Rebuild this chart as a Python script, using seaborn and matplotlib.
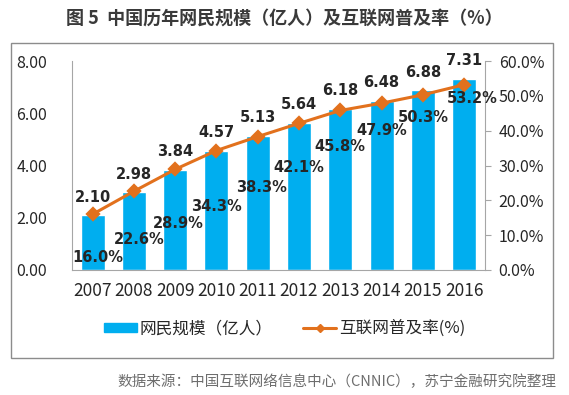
import pandas as pd
import matplotlib.pyplot as plt
import seaborn as sns
from matplotlib.patches import Rectangle, Patch
from matplotlib.lines import Line2D

# data
years = ['2007', '2008', '2009', '2010', '2011', '2012', '2013', '2014', '2015', '2016']
users = [2.10, 2.98, 3.84, 4.57, 5.13, 5.64, 6.18, 6.48, 6.88, 7.31]
rate = [16.0, 22.6, 28.9, 34.3, 38.3, 42.1, 45.8, 47.9, 50.3, 53.2]

df = pd.DataFrame({'year': years, 'users': users, 'rate': [r / 100 for r in rate]})

sns.set_style("white")
plt.rcParams['font.family'] = ['Noto Sans CJK SC', 'DejaVu Sans']

bar_color = '#00AEEF'
line_color = '#E2711D'

fig = plt.figure(figsize=(5.69, 3.95), dpi=100)
ax = fig.add_axes([0.1265, 0.3165, 0.7255, 0.529])

sns.barplot(data=df, x='year', y='users', color=bar_color, width=0.58,
            saturation=1, ax=ax)
ax.set_ylim(0, 8)
ax.set_yticks([0, 2, 4, 6, 8])
ax.set_yticklabels([f'{v:.2f}' for v in [0, 2, 4, 6, 8]])
ax.set_xlabel('')
ax.set_ylabel('')
ax.tick_params(axis='y', length=0, labelsize=11.5, pad=18)
ax.tick_params(axis='x', length=0, labelsize=12.5, pad=9)
for s in ['top', 'right']:
    ax.spines[s].set_visible(False)
for s in ['left', 'bottom']:
    ax.spines[s].set_color('#A6A6A6')

ax2 = ax.twinx()
sns.pointplot(data=df, x='year', y='rate', color=line_color, markers='D',
              markersize=6, linewidth=2.2, ax=ax2)
ax2.set_ylim(0, 0.6)
ax2.set_yticks([i / 10 for i in range(7)])
ax2.set_yticklabels([f'{i * 10:.1f}%' for i in range(7)])
ax2.set_ylabel('')
ax2.set_xlabel('')
ax2.set_xlim(-0.5, len(years) - 0.5)
ax2.tick_params(axis='y', length=4, color='#A6A6A6', labelsize=11.5, pad=6, right=True)
for s in ['top', 'left', 'bottom']:
    ax2.spines[s].set_visible(False)
ax2.spines['right'].set_color('#A6A6A6')

# value labels
for i, v in enumerate(users):
    ax.annotate(f'{v:.2f}', (i, v), xytext=(0, 13), textcoords='offset points',
                ha='center', va='center', fontsize=10.5, fontweight='bold',
                family='DejaVu Sans')

pct_dy = [-31, -35, -39, -40, -37, -32, -26, -20, -16, -10]
pct_dx = [4, 4, 2, 0, 3, 0, 0, 0, 0, 6]
for i, r in enumerate(rate):
    ax2.annotate(f'{r:.1f}%', (i, r / 100), xytext=(pct_dx[i], pct_dy[i]),
                 textcoords='offset points', ha='center', va='center',
                 fontsize=10.5, fontweight='bold', family='DejaVu Sans')

# legend
handles = [Patch(color=bar_color),
           Line2D([0], [0], color=line_color, lw=2.2, marker='D', markersize=4.5)]
fig.legend(handles, ['网民规模（亿人）', '互联网普及率(%)'], loc='center',
           bbox_to_anchor=(0.5, 0.168), ncol=2, frameon=False, fontsize=12,
           handlelength=2.0, handleheight=0.5, columnspacing=1.8, handletextpad=0.15)

# outer frame
fig.patches.append(Rectangle((11 / 569, 1 - 358 / 395), 542 / 569, 315 / 395,
                             transform=fig.transFigure, fill=False,
                             edgecolor='#8C8C8C', lw=1))

fig.text(0.5, 1 - 18 / 395, '图 5  中国历年网民规模（亿人）及互联网普及率（%）',
         ha='center', va='center', fontsize=13, fontweight='bold', color='#3A3A3A')
fig.text(0.978, 1 - 382 / 395, '数据来源：中国互联网络信息中心（CNNIC），苏宁金融研究院整理',
         ha='right', va='center', fontsize=10.5, color='#6E6E6E', style='italic')

fig.savefig('out.png', dpi=100)
